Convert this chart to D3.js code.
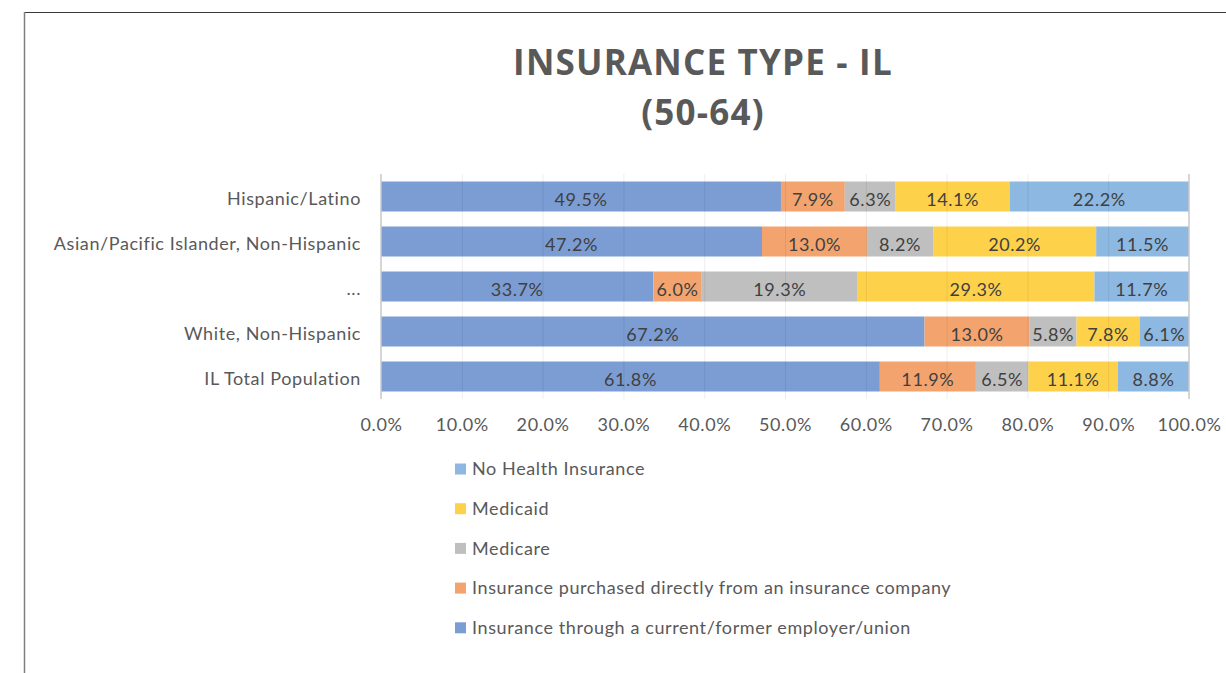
<!DOCTYPE html>
<html>
<head>
<meta charset="utf-8">
<script src="https://cdn.jsdelivr.net/npm/d3@7"></script>
<style>
	html, body { margin: 0; padding: 0; background: #fff; }
	svg { display: block; }
</style>
</head>
<body>
<svg id="chart" width="1226" height="673"></svg>
<script>
(function() {
	'use strict';

	// rows, top to bottom
	const categories = [
		'Hispanic/Latino',
		'Asian/Pacific Islander, Non-Hispanic',
		'...',
		'White, Non-Hispanic',
		'IL Total Population'
	];

	const seriesNames = [
		'Insurance through a current/former employer/union',
		'Insurance purchased directly from an insurance company',
		'Medicare',
		'Medicaid',
		'No Health Insurance'
	];

	const employer = [49.5, 47.2, 33.7, 67.2, 61.8];
	const direct   = [7.9, 13.0, 6.0, 13.0, 11.9];
	const medicare = [6.3, 8.2, 19.3, 5.8, 6.5];
	const medicaid = [14.1, 20.2, 29.3, 7.8, 11.1];
	const noneIns  = [22.2, 11.5, 11.7, 6.1, 8.8];

	const xTicks = [0, 0.1, 0.2, 0.3, 0.4, 0.5, 0.6, 0.7, 0.8, 0.9, 1.0];

	const colors = ['#7B9DD3', '#F3A46E', '#BFBFBF', '#FED14B', '#8DB8E2'];

	const seriesValues = [employer, direct, medicare, medicaid, noneIns];
	const rows = categories.map(function(c, i) {
		const r = { category: c };
		seriesNames.forEach(function(s, j) { r[s] = seriesValues[j][i]; });
		return r;
	});

	const svg = d3.select('#chart');
	const textColor = '#595959';
	const font = 'Lato, "Open Sans", sans-serif';
	const fontSize = 18;
	const spacing = 0.6;

	// frame lines
	svg.append('line').attr('x1', 24).attr('x2', 1226).attr('y1', 12.5).attr('y2', 12.5)
		.attr('stroke', '#3a3a3a').attr('stroke-width', 1.2);
	svg.append('line').attr('x1', 24.5).attr('x2', 24.5).attr('y1', 12).attr('y2', 673)
		.attr('stroke', '#7f7f7f').attr('stroke-width', 1.5);

	// title
	const title = svg.append('text')
		.attr('x', 703).attr('text-anchor', 'middle')
		.attr('font-family', '"Open Sans", sans-serif')
		.attr('font-weight', 'bold').attr('font-size', 35)
		.attr('letter-spacing', 1.2)
		.attr('fill', textColor);
	title.append('tspan').attr('x', 703).attr('y', 75).text('INSURANCE TYPE - IL');
	title.append('tspan').attr('x', 703).attr('y', 125).text('(50-64)');

	const x = d3.scaleLinear().domain([0, 1]).range([381, 1189]);
	const y = d3.scaleBand().domain(categories).range([174, 399]).paddingInner(1 / 3).paddingOuter(1 / 6);

	const stack = d3.stack().keys(seriesNames).offset(d3.stackOffsetExpand);
	const layers = stack(rows);

	const g = svg.append('g');

	const layer = g.selectAll('.layer')
		.data(layers)
		.enter().append('g')
		.attr('class', 'layer')
		.attr('fill', function(d, i) { return colors[i]; });

	layer.selectAll('rect')
		.data(function(d) { return d; })
		.enter().append('rect')
		.attr('x', function(d) { return x(d[0]); })
		.attr('y', function(d) { return y(d.data.category); })
		.attr('width', function(d) { return x(d[1]) - x(d[0]); })
		.attr('height', y.bandwidth());

	// gridlines, faint over the bars
	const grid = d3.axisBottom(x).tickValues(xTicks).tickSize(-(399 - 174)).tickFormat('');
	g.append('g')
		.attr('transform', 'translate(0,399)')
		.call(grid)
		.call(function(s) {
			s.select('.domain').remove();
			s.selectAll('line').attr('stroke', '#000').attr('stroke-opacity', 0.07);
			s.selectAll('.tick').filter(function(d) { return d === 0 || d === 1; }).remove();
		});

	// left and right edge lines
	[0, 1].forEach(function(v) {
		g.append('line')
			.attr('x1', x(v)).attr('x2', x(v)).attr('y1', 174).attr('y2', 399)
			.attr('stroke', '#c8c8c8').attr('stroke-width', 1.5);
	});

	// data labels
	layer.selectAll('.lbl')
		.data(function(d) { return d; })
		.enter().append('text')
		.attr('class', 'lbl')
		.attr('x', function(d) { return (x(d[0]) + x(d[1])) / 2; })
		.attr('y', function(d) { return y(d.data.category) + y.bandwidth() / 2 + 3; })
		.attr('dy', '0.35em')
		.attr('text-anchor', 'middle')
		.attr('font-family', font).attr('font-size', fontSize)
		.attr('letter-spacing', spacing)
		.attr('fill', '#404040')
		.text(function(d) {
			const key = d3.select(this.parentNode).datum().key;
			return d.data[key].toFixed(1) + '%';
		});

	// x axis labels
	const xAxis = d3.axisBottom(x).tickValues(xTicks).tickSize(0).tickPadding(0)
		.tickFormat(d3.format('.1%'));
	svg.append('g')
		.attr('transform', 'translate(0,419)')
		.call(xAxis)
		.call(function(s) {
			s.select('.domain').remove();
			s.selectAll('text').attr('font-family', font).attr('font-size', fontSize)
				.attr('letter-spacing', spacing)
				.attr('fill', textColor).attr('dy', '0.35em').attr('y', 6);
		});

	// category labels
	const yAxis = d3.axisLeft(y).tickSize(0).tickPadding(20);
	svg.append('g')
		.attr('transform', 'translate(381,3)')
		.call(yAxis)
		.call(function(s) {
			s.select('.domain').remove();
			s.selectAll('text').attr('font-family', font).attr('font-size', fontSize)
				.attr('letter-spacing', spacing)
				.attr('fill', textColor);
		});

	// legend (reverse order)
	const legendItems = seriesNames.map(function(s, i) { return { name: s, color: colors[i] }; }).reverse();
	const legend = svg.append('g').selectAll('g')
		.data(legendItems)
		.enter().append('g')
		.attr('transform', function(d, i) { return 'translate(455,' + (469 + i * 39.7) + ')'; });
	legend.append('rect')
		.attr('x', 0).attr('y', -5.5).attr('width', 11).attr('height', 11)
		.attr('fill', function(d) { return d.color; });
	legend.append('text')
		.attr('x', 17).attr('dy', '0.35em')
		.attr('font-family', font).attr('font-size', fontSize)
		.attr('letter-spacing', spacing)
		.attr('fill', textColor)
		.text(function(d) { return d.name; });
})();
</script>
</body>
</html>
